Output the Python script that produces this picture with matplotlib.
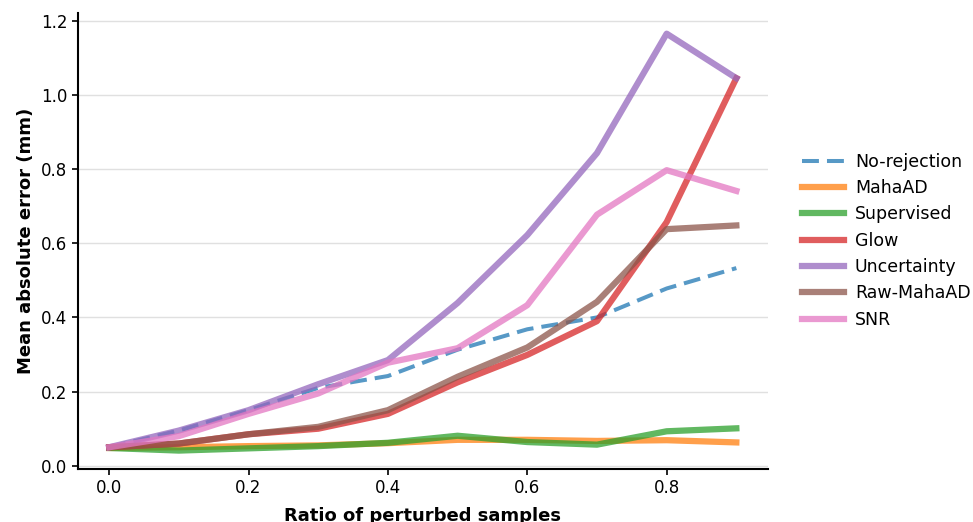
import matplotlib
matplotlib.use("Agg")
import matplotlib.pyplot as plt

ratios = [0.0, 0.1, 0.2, 0.3, 0.4, 0.5, 0.6, 0.7, 0.8, 0.9]
no_rejection = [0.05, 0.095, 0.15, 0.21, 0.242, 0.313, 0.368, 0.40, 0.478, 0.533]
mahaad = [0.048, 0.05, 0.053, 0.055, 0.061, 0.07, 0.07, 0.067, 0.069, 0.063]
supervised = [0.048, 0.041, 0.047, 0.053, 0.062, 0.081, 0.064, 0.057, 0.093, 0.101]
glow = [0.05, 0.06, 0.085, 0.10, 0.14, 0.225, 0.299, 0.39, 0.657, 1.045]
uncertainty = [0.05, 0.095, 0.15, 0.22, 0.285, 0.439, 0.622, 0.843, 1.165, 1.045]
raw_mahaad = [0.05, 0.06, 0.085, 0.105, 0.15, 0.24, 0.319, 0.442, 0.638, 0.648]
snr = [0.05, 0.08, 0.14, 0.195, 0.278, 0.317, 0.433, 0.677, 0.797, 0.741]

series = [
    ("No-rejection", no_rejection, "#1f77b4", "--", 2.9),
    ("MahaAD", mahaad, "#ff7f0e", "-", 4.5),
    ("Supervised", supervised, "#2ca02c", "-", 4.5),
    ("Glow", glow, "#d62728", "-", 4.5),
    ("Uncertainty", uncertainty, "#9467bd", "-", 4.5),
    ("Raw-MahaAD", raw_mahaad, "#8c564b", "-", 4.5),
    ("SNR", snr, "#e377c2", "-", 4.5),
]

fig = plt.figure(figsize=(9.73, 5.22), dpi=100)
ax = fig.add_axes([0.080, 0.102, 0.709, 0.874])

for name, vals, color, ls, lw in series:
    ax.plot(ratios, vals, ls, color=color, lw=lw, alpha=0.75, label=name,
            dashes=(4.2, 2.0) if ls == "--" else (None, None))

ax.set_xlim(-0.045, 0.945)
ax.set_ylim(-0.008, 1.222)
ax.set_yticks([0.0, 0.2, 0.4, 0.6, 0.8, 1.0, 1.2])
ax.set_xticks([0.0, 0.2, 0.4, 0.6, 0.8])
ax.yaxis.grid(True, color="#e0e0e0", lw=1)
ax.set_axisbelow(True)
for s in ["top", "right"]:
    ax.spines[s].set_visible(False)
for s in ["left", "bottom"]:
    ax.spines[s].set_linewidth(1.5)
ax.tick_params(labelsize=12, width=1.2, length=4)
ax.set_ylabel("Mean absolute error (mm)", fontsize=13, fontweight="bold")
ax.set_xlabel("Ratio of perturbed samples", fontsize=13, fontweight="bold", labelpad=7)

leg = ax.legend(loc="center left", bbox_to_anchor=(1.027, 0.5), frameon=False,
                fontsize=12.5, handlelength=2.4, handletextpad=0.65, labelspacing=0.48)

fig.savefig("out.png", dpi=100)
